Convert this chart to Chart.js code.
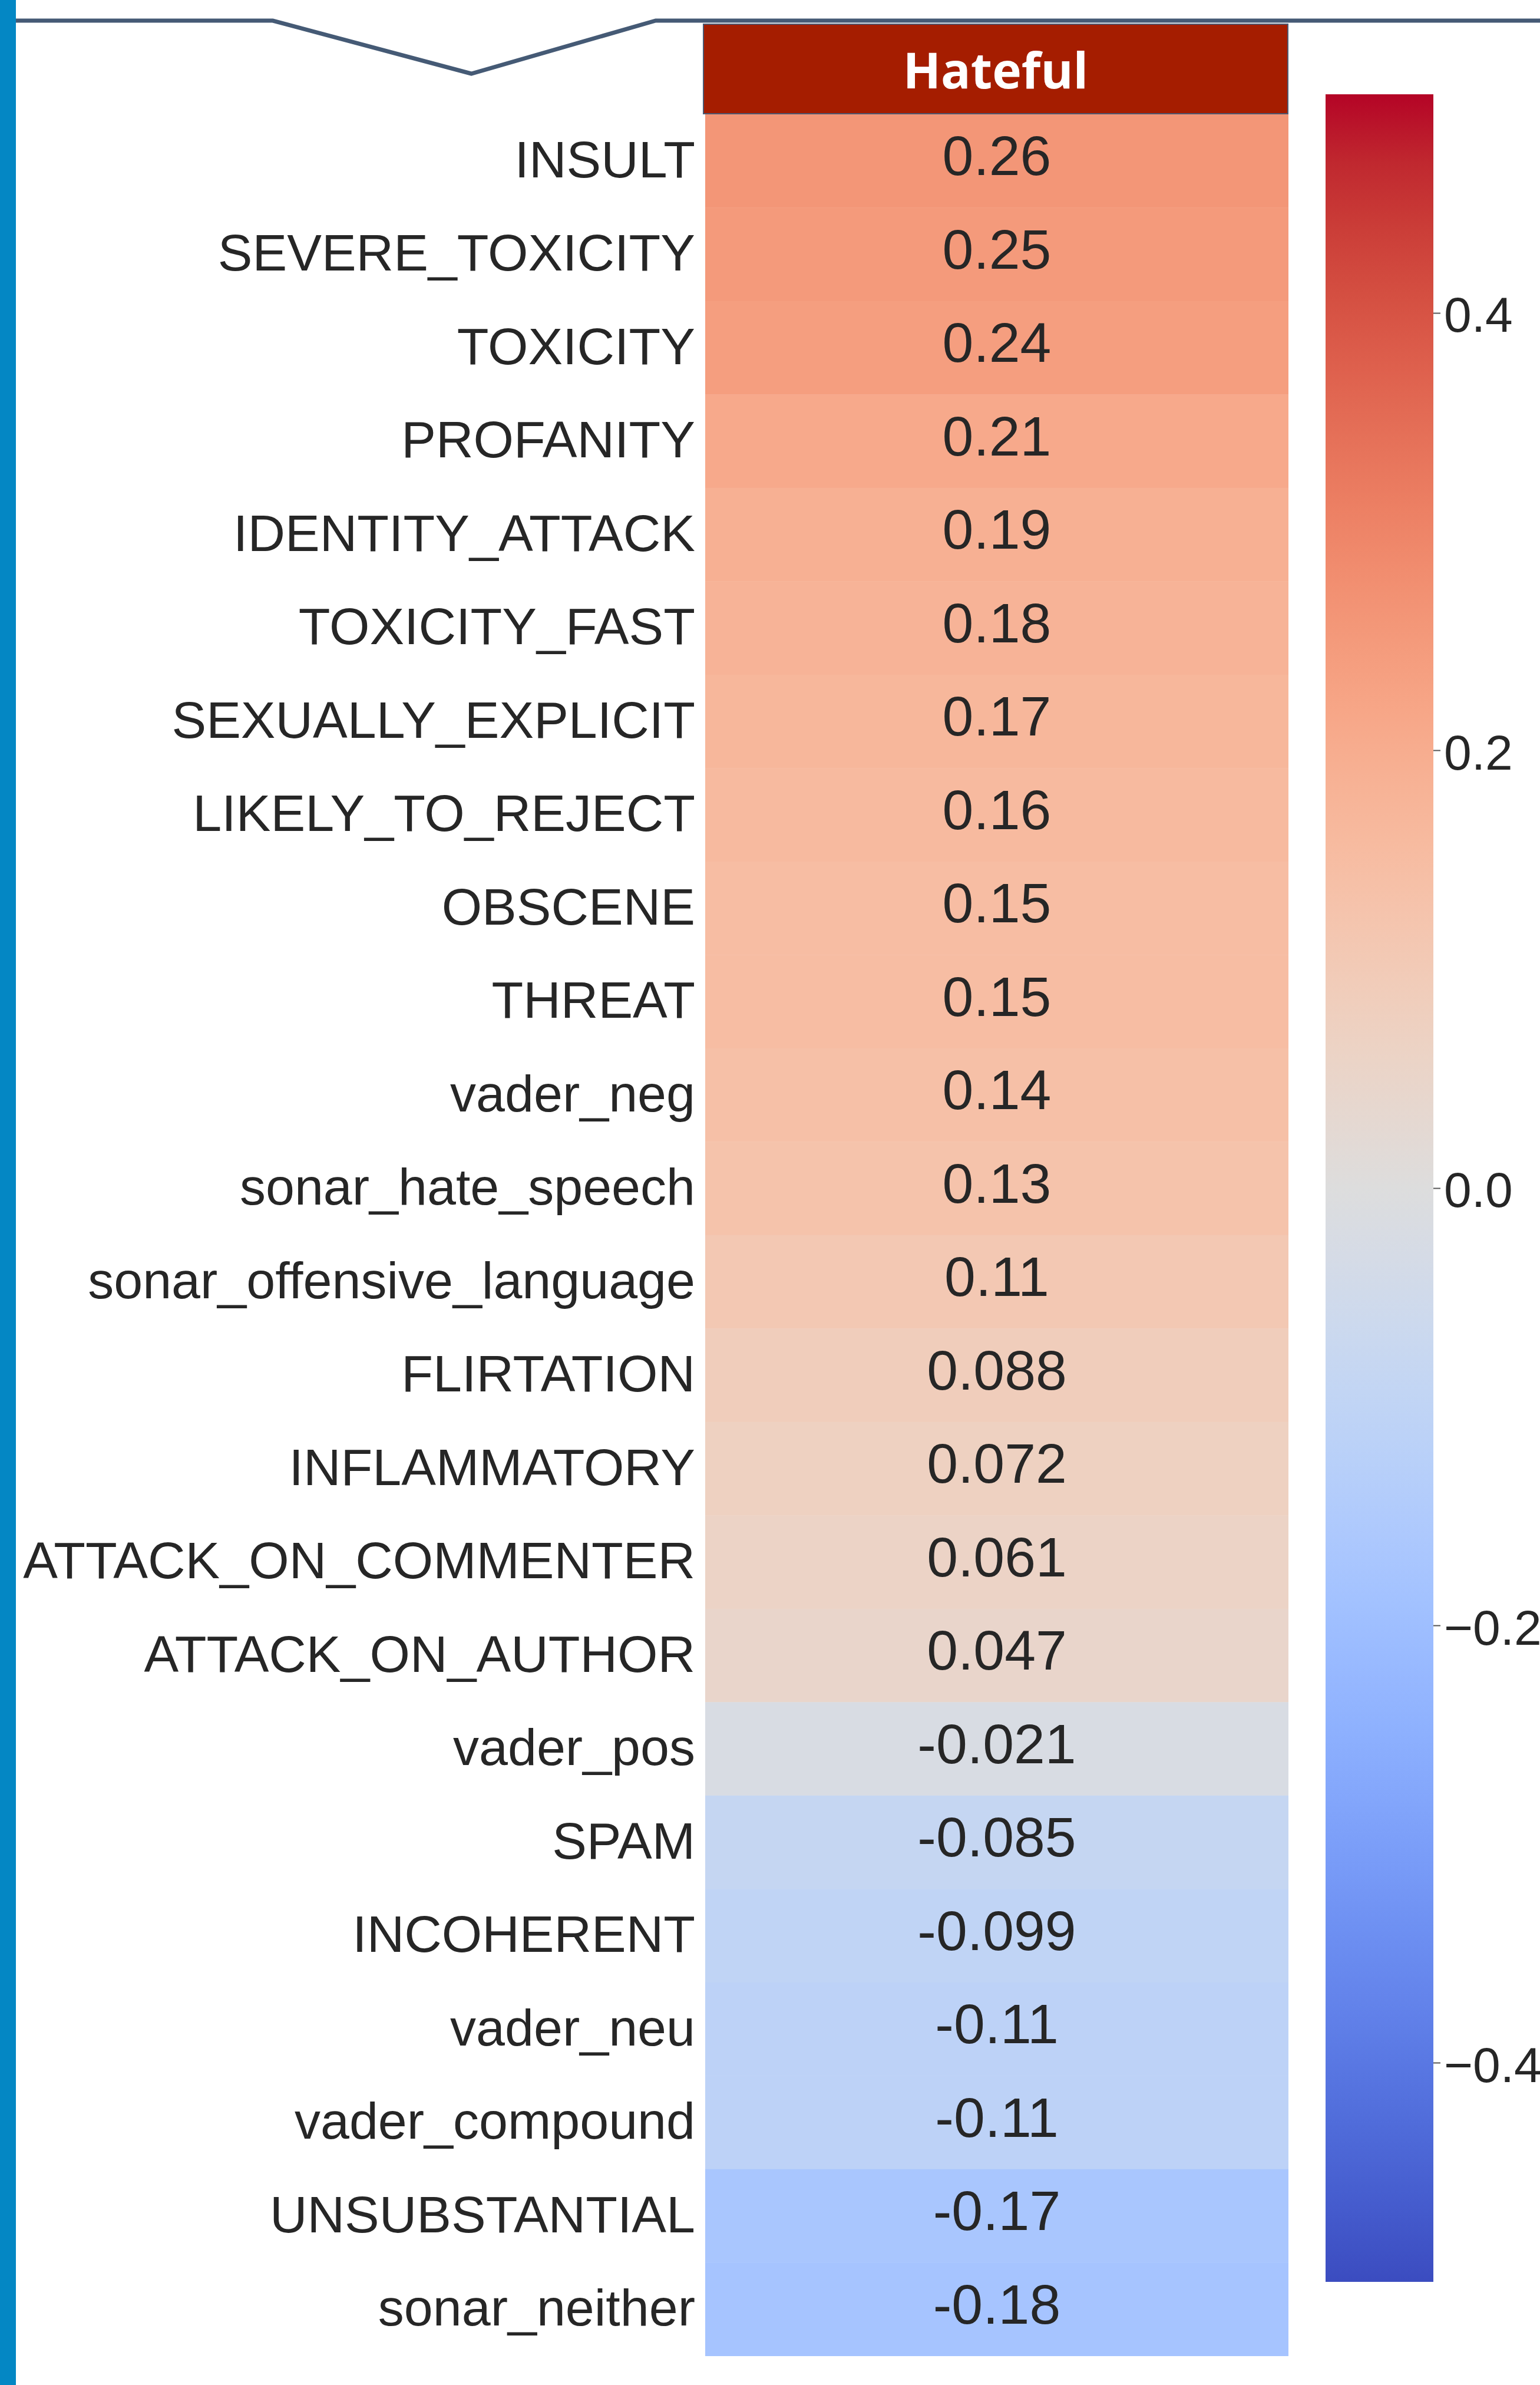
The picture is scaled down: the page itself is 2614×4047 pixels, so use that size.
<!DOCTYPE html>
<html>
<head>
<meta charset="utf-8">
<script src="https://cdn.jsdelivr.net/npm/chart.js@4.4.1/dist/chart.umd.min.js"></script>
<style>
  html, body { margin: 0; padding: 0; background: #ffffff; overflow: hidden; }
  body { width: 2614px; height: 4047px; position: relative; }
  #sideBar { position: absolute; left: 0; top: 0; width: 27px; height: 4047px; background: #0487c4; }
  #topLine { position: absolute; left: 0; top: 0; z-index: 5; }
  #header {
    position: absolute; left: 1193px; top: 40px; width: 990px; height: 150px;
    background: #a51d00; border: 2px solid #4b5a74; color: #ffffff;
    font-family: "Open Sans", sans-serif; font-weight: 700; font-size: 84px;
    display: flex; align-items: center; justify-content: center;
  }
  #heatWrap { position: absolute; left: 0; top: 194px; width: 2187px; height: 3804px; }
  #barWrap { position: absolute; left: 2250px; top: 160px; width: 500px; height: 3712px; }
</style>
</head>
<body>
<div id="sideBar"></div>
<svg id="topLine" width="2614" height="200">
  <polyline points="27,35 463,35 800,125 1113,35 2614,35" fill="none" stroke="#455a75" stroke-width="7" />
</svg>
<div id="header">Hateful</div>
<div id="heatWrap"><canvas id="heatChart" width="2187" height="3804"></canvas></div>
<div id="barWrap"><canvas id="scaleChart" width="500" height="3712"></canvas></div>

<script>
// Feature names (rows of the heatmap)
const features = [
  'INSULT', 'SEVERE_TOXICITY', 'TOXICITY', 'PROFANITY', 'IDENTITY_ATTACK',
  'TOXICITY_FAST', 'SEXUALLY_EXPLICIT', 'LIKELY_TO_REJECT', 'OBSCENE', 'THREAT',
  'vader_neg', 'sonar_hate_speech', 'sonar_offensive_language', 'FLIRTATION',
  'INFLAMMATORY', 'ATTACK_ON_COMMENTER', 'ATTACK_ON_AUTHOR', 'vader_pos', 'SPAM',
  'INCOHERENT', 'vader_neu', 'vader_compound', 'UNSUBSTANTIAL', 'sonar_neither'
];

// Correlation with "Hateful"
const hatefulCorr = [
  0.26, 0.25, 0.24, 0.21, 0.19,
  0.18, 0.17, 0.16, 0.15, 0.15,
  0.14, 0.13, 0.11, 0.088,
  0.072, 0.061, 0.047, -0.021, -0.085,
  -0.099, -0.11, -0.11, -0.17, -0.18
];

// Colour bar range and ticks
const colorMin = -0.5;
const colorMax = 0.5;
const colorTicks = [-0.4, -0.2, 0.0, 0.2, 0.4];

// coolwarm colormap samples (33 steps)
const coolwarm = [
  [59, 76, 192], [68, 90, 204], [77, 104, 215], [87, 117, 225], [98, 130, 234],
  [108, 142, 241], [119, 154, 247], [130, 165, 251], [141, 176, 254], [152, 185, 255],
  [163, 194, 255], [174, 201, 253], [184, 208, 249], [194, 213, 244], [204, 217, 238],
  [213, 219, 230], [221, 221, 221], [229, 216, 209], [236, 211, 197], [241, 204, 185],
  [245, 196, 173], [247, 187, 160], [247, 177, 148], [247, 166, 135], [244, 154, 123],
  [241, 141, 111], [236, 127, 99], [229, 112, 88], [222, 96, 77], [213, 80, 66],
  [203, 62, 56], [192, 40, 47], [180, 4, 38]
];

const textColor = '#262626';

function cmap(t) {
  t = Math.max(0, Math.min(1, t));
  const pos = t * (coolwarm.length - 1);
  const i = Math.min(Math.floor(pos), coolwarm.length - 2);
  const f = pos - i;
  const a = coolwarm[i], b = coolwarm[i + 1];
  const c = a.map((v, k) => Math.round(v + (b[k] - v) * f));
  return 'rgb(' + c.join(',') + ')';
}

function colorFor(v) {
  return cmap((v - colorMin) / (colorMax - colorMin));
}

// no extra space above/below the axis for half labels
function noPadding(scale) {
  scale.paddingTop = 0;
  scale.paddingBottom = 0;
}

// Draws the number in the middle of each cell
const cellLabels = {
  id: 'cellLabels',
  afterDatasetsDraw(chart) {
    const ctx = chart.ctx;
    const meta = chart.getDatasetMeta(0);
    ctx.save();
    ctx.font = '95px "Liberation Sans", Arial, sans-serif';
    ctx.fillStyle = textColor;
    ctx.textAlign = 'center';
    ctx.textBaseline = 'middle';
    meta.data.forEach((bar, i) => {
      const p = bar.getProps(['x', 'y', 'base'], true);
      const cx = (p.x + p.base) / 2;
      ctx.fillText(hatefulCorr[i].toPrecision(2), cx, p.y - 2);
    });
    ctx.restore();
  }
};

function initHeatmap() {
  new Chart(document.getElementById('heatChart'), {
    type: 'bar',
    data: {
      labels: features,
      datasets: [{
        data: hatefulCorr.map(() => [0, 1]),
        backgroundColor: hatefulCorr.map(colorFor),
        borderWidth: 0,
        barPercentage: 1.0,
        categoryPercentage: 1.0
      }]
    },
    options: {
      indexAxis: 'y',
      responsive: false,
      animation: false,
      events: [],
      layout: { padding: 0 },
      plugins: { legend: { display: false }, tooltip: { enabled: false } },
      scales: {
        x: { type: 'linear', min: 0, max: 1, display: false },
        y: {
          type: 'category',
          grid: { display: false, drawTicks: false },
          border: { display: false },
          ticks: {
            color: textColor,
            padding: 17,
            labelOffset: 3,
            font: { family: '"Liberation Sans", Arial, sans-serif', size: 88 }
          },
          afterFit: (scale) => { scale.width = 1197; noPadding(scale); }
        }
      }
    },
    plugins: [cellLabels]
  });
}

function barGradient(context) {
  const area = context.chart.chartArea;
  if (!area) return colorFor(0);
  const g = context.chart.ctx.createLinearGradient(0, area.bottom, 0, area.top);
  coolwarm.forEach((c, i) => {
    g.addColorStop(i / (coolwarm.length - 1), 'rgb(' + c.join(',') + ')');
  });
  return g;
}

function initColorBar() {
  new Chart(document.getElementById('scaleChart'), {
    type: 'bar',
    data: {
      labels: [''],
      datasets: [{
        data: [[colorMin, colorMax]],
        backgroundColor: barGradient,
        borderWidth: 0,
        barPercentage: 1.0,
        categoryPercentage: 1.0
      }]
    },
    options: {
      responsive: false,
      animation: false,
      events: [],
      layout: { padding: 0 },
      plugins: { legend: { display: false }, tooltip: { enabled: false } },
      scales: {
        x: { display: false },
        y: {
          type: 'linear',
          position: 'right',
          min: colorMin,
          max: colorMax,
          afterBuildTicks: (scale) => { scale.ticks = colorTicks.map(v => ({ value: v })); },
          afterFit: (scale) => { scale.width = 317; noPadding(scale); },
          border: { display: false },
          grid: {
            drawOnChartArea: false,
            drawTicks: true,
            tickLength: 12,
            tickWidth: 2,
            tickColor: '#555555'
          },
          ticks: {
            color: textColor,
            padding: 6,
            labelOffset: 9,
            font: { family: '"Liberation Sans", Arial, sans-serif', size: 84 },
            callback: (v) => (v < 0 ? '\u2212' + Math.abs(v).toFixed(1) : v.toFixed(1))
          }
        }
      }
    }
  });
}

document.addEventListener('DOMContentLoaded', () => {
  initHeatmap();
  initColorBar();
});
</script>
</body>
</html>
